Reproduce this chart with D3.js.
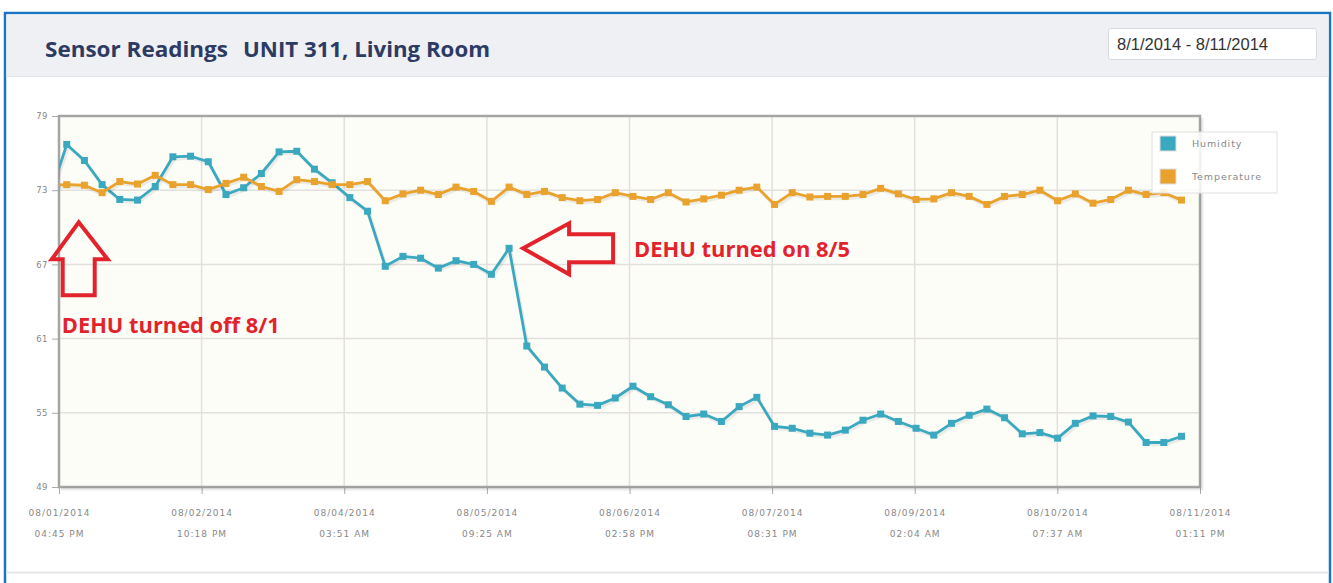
<!DOCTYPE html>
<html>
<head>
<meta charset="utf-8">
<script src="https://cdnjs.cloudflare.com/ajax/libs/d3/7.8.5/d3.min.js"></script>
<style>
  body { margin: 0; background: #fff; }
  svg { display: block; }
</style>
</head>
<body>
<div class="canvas"></div>
<script>
// readings: first value is the one taken just before the window starts (clipped)
const firstReading = '08/01/2014 02:41 PM';
const readingMinutes = 220;
const humidity = [72.3, 76.7, 75.4, 73.45, 72.25, 72.2, 73.3, 75.7, 75.75, 75.3, 72.65, 73.2, 74.35, 76.1, 76.15, 74.7,
  73.6, 72.4, 71.3, 66.85, 67.65, 67.5, 66.7, 67.3, 67.0, 66.2, 68.3, 60.4, 58.7, 57.0, 55.7, 55.6, 56.2, 57.15,
  56.3, 55.65, 54.7, 54.9, 54.3, 55.5, 56.25, 53.9, 53.75, 53.35, 53.2, 53.6, 54.4, 54.9, 54.3, 53.75, 53.2, 54.15,
  54.8, 55.3, 54.6, 53.3, 53.4, 52.95, 54.15, 54.75, 54.7, 54.25, 52.6, 52.6, 53.1];
const temperature = [73.4, 73.45, 73.4, 72.8, 73.7, 73.5, 74.2, 73.45, 73.45, 73.05, 73.55, 74.05, 73.3, 72.9, 73.85,
  73.7, 73.45, 73.45, 73.7, 72.15, 72.7, 73.0, 72.65, 73.25, 72.9, 72.1, 73.25, 72.65, 72.9, 72.4, 72.15, 72.25,
  72.8, 72.5, 72.25, 72.8, 72.05, 72.3, 72.6, 73.0, 73.25, 71.85, 72.8, 72.45, 72.5, 72.5, 72.65, 73.15, 72.7,
  72.25, 72.3, 72.8, 72.5, 71.85, 72.5, 72.65, 73.0, 72.15, 72.7, 71.95, 72.25, 73.0, 72.65, 72.8, 72.2];
const tickLabels = ['08/01/2014 04:45 PM', '08/02/2014 10:18 PM', '08/04/2014 03:51 AM', '08/05/2014 09:25 AM',
  '08/06/2014 02:58 PM', '08/07/2014 08:31 PM', '08/09/2014 02:04 AM', '08/10/2014 07:37 AM', '08/11/2014 01:11 PM'];
const yTicks = [49, 55, 61, 67, 73, 79];
const seriesNames = ['Humidity', 'Temperature'];
const seriesColors = ['#3aa9c0', '#eaa22e'];

const parse = d3.timeParse('%m/%d/%Y %I:%M %p');
const t0 = parse(firstReading);
const times = humidity.map((d, i) => new Date(+t0 + i * readingMinutes * 60000));
const tickTimes = tickLabels.map(parse);

//1. dimensions
const W = 1333, H = 583;
const margin = {top: 116, left: 59};
const graphWidth = 1141, graphHeight = 371;

const canvas = d3.select('.canvas').append('svg')
  .attr('width', W).attr('height', H)
  .style('font-family', 'DejaVu Sans, sans-serif');

//2. frame and header
canvas.append('rect').attr('x', 5).attr('y', 13).attr('width', 1325).attr('height', 580)
  .attr('fill', '#fff').attr('stroke', '#1b74c6').attr('stroke-width', 2.5);
canvas.append('rect').attr('x', 6.5).attr('y', 14.5).attr('width', 1322).attr('height', 62)
  .attr('fill', '#eff0f4');
canvas.append('line').attr('x1', 6).attr('x2', 1329).attr('y1', 76.5).attr('y2', 76.5)
  .attr('stroke', '#e2e4ea');
canvas.append('line').attr('x1', 6).attr('x2', 1329).attr('y1', 572.5).attr('y2', 572.5)
  .attr('stroke', '#e4e6ea').attr('stroke-width', 2);

[['Sensor Readings', 45, 183], ['UNIT 311, Living Room', 243, 247]].forEach(([txt, x, len]) => {
  canvas.append('text').attr('x', x).attr('y', 56.5)
    .style('font-family', 'Open Sans, sans-serif').attr('font-size', 22).attr('font-weight', 700)
    .attr('fill', '#2d3b63').attr('textLength', len).attr('lengthAdjust', 'spacingAndGlyphs').text(txt);
});

canvas.append('rect').attr('x', 1108.5).attr('y', 28.5).attr('width', 208).attr('height', 31)
  .attr('rx', 2).attr('fill', '#fff').attr('stroke', '#d8dadf');
canvas.append('text').attr('x', 1117).attr('y', 49.5).attr('font-size', 16)
  .style('font-family', 'Liberation Sans, sans-serif').attr('fill', '#333')
  .attr('textLength', 151).attr('lengthAdjust', 'spacingAndGlyphs').text('8/1/2014 - 8/11/2014');

//3. graph group
const graph = canvas.append('g').attr('transform', `translate(${margin.left},${margin.top})`);

const xScale = d3.scaleTime().domain([tickTimes[0], tickTimes[tickTimes.length - 1]]).range([0, graphWidth]);
const yScale = d3.scaleLinear().domain([49, 79]).range([graphHeight, 0]);

graph.append('rect').attr('width', graphWidth).attr('height', graphHeight).attr('fill', '#fdfdf8');

// grid lines
graph.append('g').selectAll('line').data(yTicks).join('line')
  .attr('x1', 0).attr('x2', graphWidth)
  .attr('y1', d => yScale(d)).attr('y2', d => yScale(d))
  .attr('stroke', '#e2e0dc').attr('stroke-width', 1.5);
graph.append('g').selectAll('line').data(tickTimes).join('line')
  .attr('x1', d => xScale(d)).attr('x2', d => xScale(d))
  .attr('y1', 0).attr('y2', graphHeight)
  .attr('stroke', '#e2e0dc').attr('stroke-width', 1.5);

// axes
const xAxis = d3.axisBottom(xScale).tickValues(tickTimes).tickSize(7).tickFormat('');
const yAxis = d3.axisLeft(yScale).tickValues(yTicks).tickSize(7).tickFormat(d3.format('d'));

const xAxisGroup = graph.append('g').attr('transform', `translate(0,${graphHeight})`).call(xAxis);
const yAxisGroup = graph.append('g').call(yAxis);
[xAxisGroup, yAxisGroup].forEach(g => {
  g.attr('font-family', 'DejaVu Sans, sans-serif');
  g.select('.domain').remove();
  g.selectAll('line').attr('stroke', '#aaa');
});
yAxisGroup.selectAll('text').attr('font-size', 8.5).attr('fill', '#888').attr('x', -11)
  .attr('letter-spacing', 0.5);

const labels = xAxisGroup.selectAll('.tick').append('text')
  .attr('fill', '#888').attr('font-size', 9).attr('letter-spacing', 1).attr('text-anchor', 'middle');
labels.append('tspan').attr('x', 0).attr('y', 29).text((d, i) => tickLabels[i].slice(0, 10));
labels.append('tspan').attr('x', 0).attr('y', 50).text((d, i) => tickLabels[i].slice(11));

// plot border
graph.append('rect').attr('width', graphWidth).attr('height', graphHeight)
  .attr('fill', 'none').attr('stroke', '#a5a5a5').attr('stroke-width', 2.5);
graph.append('path')
  .attr('d', `M${graphWidth + 2},2V${graphHeight + 2}H2`)
  .attr('fill', 'none').attr('stroke', '#000').attr('stroke-opacity', 0.08).attr('stroke-width', 3);

//4. series
graph.append('clipPath').attr('id', 'plot').append('rect')
  .attr('width', graphWidth).attr('height', graphHeight);
const plot = graph.append('g').attr('clip-path', 'url(#plot)');

const line = d3.line().x((d, i) => xScale(times[i])).y(d => yScale(d));
const series = [humidity, temperature];

series.forEach((values, s) => {
  plot.append('path').attr('d', line(values)).attr('fill', 'none')
    .attr('stroke', '#000').attr('stroke-opacity', 0.07).attr('stroke-width', 3.5)
    .attr('transform', 'translate(1.5,2)');
  plot.append('path').attr('d', line(values)).attr('fill', 'none')
    .attr('stroke', seriesColors[s]).attr('stroke-width', 2.8).attr('stroke-linejoin', 'round');
  plot.append('g').selectAll('rect').data(values).join('rect')
    .attr('x', (d, i) => xScale(times[i]) - 3.5).attr('y', d => yScale(d) - 3.5)
    .attr('width', 7).attr('height', 7).attr('fill', seriesColors[s]);
});

//5. legend
const legend = canvas.append('g').attr('transform', 'translate(1152,132)');
legend.append('rect').attr('width', 125).attr('height', 61)
  .attr('fill', '#fff').attr('fill-opacity', 0.85).attr('stroke', '#e0e0e0');
seriesNames.forEach((name, i) => {
  legend.append('rect').attr('x', 8).attr('y', 4 + i * 33).attr('width', 16).attr('height', 15)
    .attr('fill', seriesColors[i]).attr('stroke', '#ddd');
  legend.append('text').attr('x', 40).attr('y', 15 + i * 33).attr('font-size', 9.5)
    .attr('letter-spacing', 0.9).attr('fill', '#888').text(name);
});

//6. annotations, anchored to readings
const red = '#e3232c';
const offIdx = 1, onIdx = 26;
const upTip = [xScale(times[offIdx]) + 12, yScale(70.4)];
const leftTip = [xScale(times[onIdx]) + 14, yScale(68.3)];

const upArrow = [[0, 0], [29, 37], [16, 37], [16, 73], [-16, 73], [-16, 37], [-27, 37]];
const leftArrow = [[0, 0], [46, -25], [46, -14], [90, -14], [90, 14], [46, 14], [46, 26]];

[[upArrow, upTip], [leftArrow, leftTip]].forEach(([shape, tip]) => {
  graph.append('path')
    .attr('d', 'M' + shape.map(p => [tip[0] + p[0], tip[1] + p[1]].join(',')).join('L') + 'Z')
    .attr('fill', 'none').attr('stroke', red).attr('stroke-width', 4).attr('stroke-linejoin', 'miter');
});

[['DEHU turned off 8/1', upTip[0] - 17, upTip[1] + 111, 218],
 ['DEHU turned on 8/5', leftTip[0] + 111, leftTip[1] + 9, 216]].forEach(([txt, x, y, len]) => {
  graph.append('text').attr('x', x).attr('y', y)
    .style('font-family', 'Open Sans, sans-serif').attr('font-weight', 700).attr('font-size', 21)
    .attr('fill', red).attr('textLength', len).attr('lengthAdjust', 'spacingAndGlyphs').text(txt);
});
</script>
</body>
</html>
